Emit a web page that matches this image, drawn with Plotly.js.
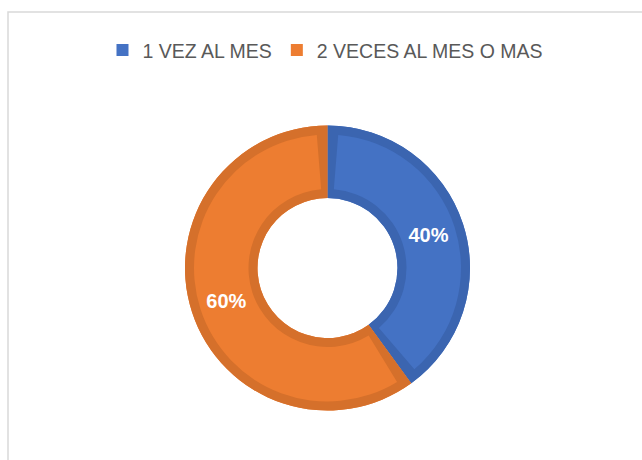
<!DOCTYPE html>
<html>
<head>
<meta charset="utf-8">
<script src="https://cdn.plot.ly/plotly-3.0.1.min.js"></script>
<style>html,body{margin:0;padding:0;background:#fff;}#chart{width:642px;height:460px;}</style>
</head>
<body>
<div id="chart"></div>
<script>
// Data
const categories = ['1 VEZ AL MES', '2 VECES AL MES O MAS'];
const values = [40, 60];
const valueLabels = ['40%', '60%'];
const fillColors = ['#4472C4', '#ED7D31'];
const edgeColors = ['#3B65B0', '#D5702B'];

// Geometry (pixels) for layout
const W = 642, H = 460;
const cx = 327.5, cy = 268;           // centre in px from top-left
const rOuter = 142.5, rHole = 70, band = 9;

function dom(r) {
  const yc = H - cy;
  return {x: [(cx - r) / W, (cx + r) / W], y: [(yc - r) / H, (yc + r) / H]};
}

// Inset light slices: angular gap around each boundary (styling only)
const total = values.reduce((a, b) => a + b, 0);
const gapDeg = 4.6;
const insetVals = [], insetColors = [], insetText = [], insetLabels = [];
values.forEach((v, i) => {
  const deg = v / total * 360;
  insetVals.push(gapDeg, deg - 2 * gapDeg, gapDeg);
  insetColors.push('rgba(0,0,0,0)', fillColors[i], 'rgba(0,0,0,0)');
  insetText.push('', valueLabels[i], '');
  insetLabels.push('g' + i + 'a', categories[i] + ' ', 'g' + i + 'b');
});

const common = {type: 'pie', sort: false, direction: 'clockwise', rotation: 0,
  hoverinfo: 'none'};

const legendPie = Object.assign({}, common, {
  labels: categories, values: values, hole: rHole / rOuter, domain: dom(rOuter),
  marker: {colors: fillColors, line: {width: 0}}, textinfo: 'none', showlegend: true
});
const darkRing = Object.assign({}, common, {
  labels: categories, values: values, hole: rHole / rOuter, domain: dom(rOuter),
  marker: {colors: edgeColors, line: {width: 0}}, textinfo: 'none', showlegend: false
});
const rIn = rOuter - band;
const lightRing = Object.assign({}, common, {
  labels: insetLabels, values: insetVals, hole: (rHole + band) / rIn, domain: dom(rIn),
  marker: {colors: insetColors, line: {width: 0}},
  text: insetText, textinfo: 'text', textposition: 'inside',
  insidetextorientation: 'horizontal',
  textfont: {family: 'Liberation Sans, Arial, sans-serif', size: 20, color: '#ffffff', weight: 'bold'},
  showlegend: false
});

const layout = {
  width: W, height: H,
  margin: {l: 0, r: 0, t: 0, b: 0},
  paper_bgcolor: '#ffffff',
  showlegend: true,
  legend: {orientation: 'h', x: 0.507, xanchor: 'center', y: 0.933, yanchor: 'top',
    font: {family: 'Liberation Sans, Arial, sans-serif', size: 19.5, color: '#595959'},
    itemclick: false, itemdoubleclick: false},
  shapes: [{type: 'rect', xref: 'paper', yref: 'paper',
    x0: 8 / W, x1: 1.2, y0: -0.2, y1: (H - 12) / H,
    line: {color: '#d9d9d9', width: 1.5}, fillcolor: 'rgba(0,0,0,0)'}]
};

Plotly.newPlot('chart', [legendPie, darkRing, lightRing], layout, {displayModeBar: false, staticPlot: true});
</script>
</body>
</html>
